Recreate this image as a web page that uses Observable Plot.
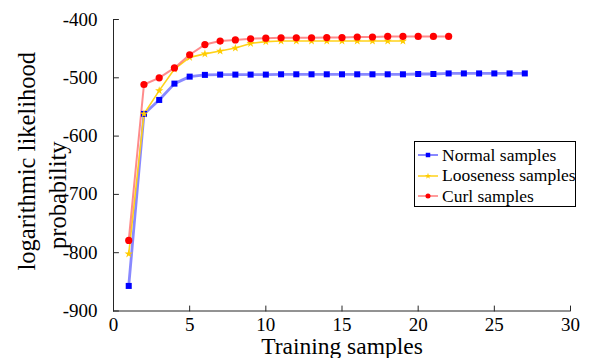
<!DOCTYPE html>
<html>
<head>
<meta charset="utf-8">
<script src="https://cdn.jsdelivr.net/npm/d3@7"></script>
<script src="https://cdn.jsdelivr.net/npm/@observablehq/plot@0.6"></script>
<style>
  html, body { margin: 0; padding: 0; background: white; }
  #wrap { position: relative; width: 595px; height: 358px; overflow: hidden; font-family: "Liberation Serif", "Times New Roman", serif; }
  #legend { position: absolute; left: 414px; top: 141px; width: 162px; height: 66px; border: 1px solid #000; background: white; box-sizing: border-box; }
  .row { position: absolute; left: 0; height: 20px; display: flex; align-items: center; font-size: 17.5px; color: #000; white-space: nowrap; }
  .row svg { margin-left: 3px; margin-right: 4px; }
</style>
</head>
<body>
<div id="wrap"></div>
<script>
// ---- data ----
const xTicks = [0, 5, 10, 15, 20, 25, 30];
const yTicks = [-900, -800, -700, -600, -500, -400];
const seriesNames = ["Normal samples", "Looseness samples", "Curl samples"];
const normalVals = [-857, -562, -538, -510, -498, -495, -494.5, -494.5, -494.5, -494.5, -494, -494, -494, -494, -494, -494, -494, -494, -494, -493.5, -493.5, -492.5, -492.5, -492.5, -492.5, -492.5, -492.5];
const loosenessVals = [-802, -562, -522, -485, -465, -459, -454, -449, -441, -438, -437, -437, -437, -437, -437, -437, -437, -437, -437];
const curlVals = [-779, -511.5, -500, -483, -460.5, -443, -437, -435, -433, -432, -431.5, -431.5, -431.5, -431, -431, -430, -430, -429, -429, -429, -429, -429];
const xLabel = "Training samples";
const yLabel1 = "logarithmic likelihood";
const yLabel2 = "probability";

const toPts = vals => vals.map((v, i) => ({x: i + 1, y: v}));
const normal = toPts(normalVals);
const loose = toPts(loosenessVals);
const curl = toPts(curlVals);

const fmt = d => String(d);
const axisColor = "#262626";
const serif = "Liberation Serif";
const tickShape = {draw(context, l) { context.moveTo(0, 0); context.lineTo(0, -l); }};

const chart = Plot.plot({
  width: 595,
  height: 358,
  marginLeft: 113,
  marginRight: 25,
  marginTop: 19,
  marginBottom: 47.5,
  style: {fontFamily: serif, fontSize: "19px", color: "#000", background: "white", overflow: "visible"},
  x: {domain: [0, 30], axis: null},
  y: {domain: [-900, -400], axis: null},
  marks: [
    Plot.ruleX([0], {stroke: axisColor, strokeWidth: 1}),
    Plot.ruleY([-900], {stroke: axisColor, strokeWidth: 1}),
    // inward ticks
    Plot.vector(xTicks, {x: d => d, frameAnchor: "bottom", length: 5, rotate: 0, anchor: "start", shape: tickShape, stroke: axisColor, strokeWidth: 1}),
    Plot.vector(yTicks, {y: d => d, frameAnchor: "left", length: 5, rotate: 90, anchor: "start", shape: tickShape, stroke: axisColor, strokeWidth: 1}),
    // tick labels
    Plot.text(xTicks, {x: d => d, frameAnchor: "bottom", dy: 6, text: fmt, lineAnchor: "top", fontSize: 19, fontFamily: serif, fill: "#000"}),
    Plot.text(yTicks, {y: d => d, frameAnchor: "left", dx: -16, textAnchor: "end", text: fmt, lineAnchor: "middle", fontSize: 19, fontFamily: serif, fill: "#000"}),
    // lines
    Plot.line(normal, {x: "x", y: "y", stroke: "#3a3aff", strokeOpacity: 0.6, strokeWidth: 2.8}),
    Plot.line(loose, {x: "x", y: "y", stroke: "#ffd21a", strokeWidth: 1.6}),
    Plot.line(curl, {x: "x", y: "y", stroke: "#ff5a5a", strokeOpacity: 0.7, strokeWidth: 2}),
    // markers
    Plot.dot(normal, {x: "x", y: "y", symbol: "square", r: 3.4, fill: "#0000ff", stroke: null}),
    Plot.dot(loose, {x: "x", y: "y", symbol: "star", r: 2.6, fill: "#ffcc00", stroke: null}),
    Plot.dot(curl, {x: "x", y: "y", symbol: "circle", r: 3.6, fill: "#ff0000", stroke: null}),
    // x label
    Plot.text([xLabel], {frameAnchor: "bottom", dy: 43, text: d => d, fontSize: 23.5, fontFamily: serif, fill: "#000", lineAnchor: "bottom"}),
    // y label (two lines)
    Plot.text([yLabel1], {frameAnchor: "left", textAnchor: "middle", dx: -86, dy: -4, rotate: -90, text: d => d, fontSize: 24.5, fontFamily: serif, fill: "#000", lineAnchor: "middle"}),
    Plot.text([yLabel2], {frameAnchor: "left", textAnchor: "middle", dx: -55, dy: 30, rotate: -90, text: d => d, fontSize: 24.5, fontFamily: serif, fill: "#000", lineAnchor: "middle"})
  ]
});

const wrap = document.getElementById("wrap");
wrap.appendChild(chart);

// legend
const legend = document.createElement("div");
legend.id = "legend";
const styles = [
  {stroke: "#3a3aff", op: 0.8, sym: "square", fill: "#0000ff"},
  {stroke: "#ffd21a", op: 1, sym: "star", fill: "#ffcc00"},
  {stroke: "#ff5a5a", op: 0.8, sym: "circle", fill: "#ff0000"}
];
seriesNames.forEach((name, i) => {
  const row = document.createElement("div");
  row.className = "row";
  row.style.top = (3 + i * 20.5) + "px";
  const st = styles[i];
  const symType = st.sym === "square" ? d3.symbolSquare : st.sym === "star" ? d3.symbolStar : d3.symbolCircle;
  const symPath = d3.symbol(symType, st.sym === "star" ? 12 : 20)();
  row.innerHTML = `<svg width="20" height="20"><line x1="0" x2="20" y1="10" y2="10" stroke="${st.stroke}" stroke-opacity="${st.op}" stroke-width="1.5"/><path d="${symPath}" transform="translate(10,10)" fill="${st.fill}"/></svg><span>${name}</span>`;
  legend.appendChild(row);
});
wrap.appendChild(legend);
</script>
</body>
</html>
